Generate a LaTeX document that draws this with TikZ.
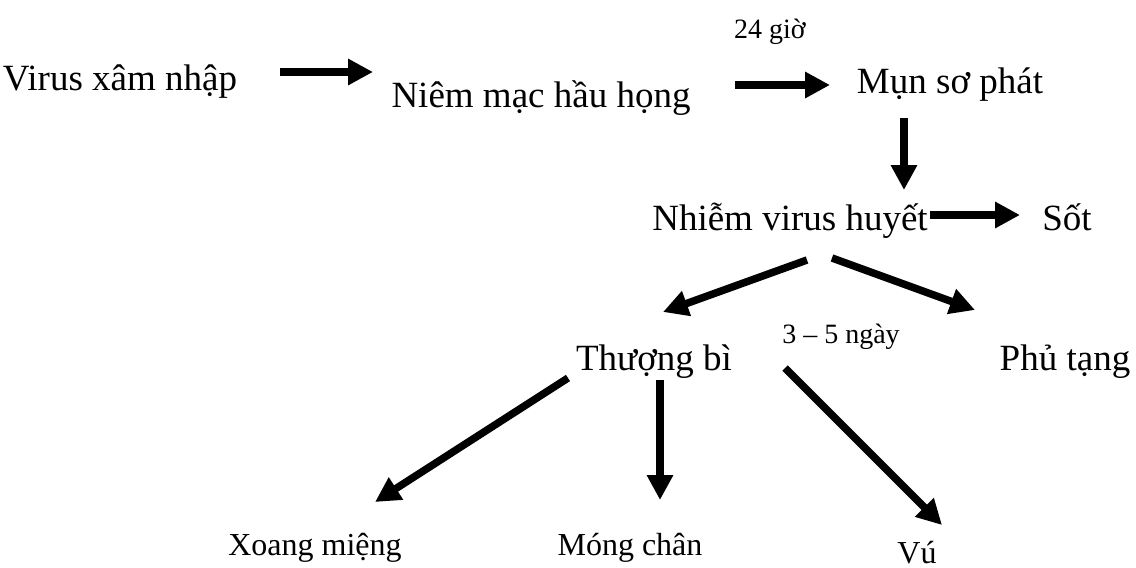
\documentclass[tikz,border=0pt]{standalone}
\usepackage{fontspec}
\setmainfont{Liberation Serif}
\usetikzlibrary{arrows.meta}

\begin{document}
\begin{tikzpicture}[
  x=1pt, y=-1pt,
  every node/.style={inner sep=0pt, anchor=base},
  lbl/.style={font=\fontsize{37}{41}\selectfont},
  lowlbl/.style={font=\fontsize{32}{36}\selectfont},
  note/.style={font=\fontsize{28}{32}\selectfont},
  arr/.style={-{Triangle[length=25pt, width=25pt]}, line width=7.5pt}
]
\useasboundingbox (0,0) rectangle (1136,568);

% stages
\node[lbl] (virus) at (120,90) {Virus xâm nhập};
\node[lbl] (niem) at (541,107) {Niêm mạc hầu họng};
\node[note] (gio) at (770,38) {24 giờ};
\node[lbl] (mun) at (950,93) {Mụn sơ phát};
\node[lbl] (nhiem) at (790,230) {Nhiễm virus huyết};
\node[lbl] (sot) at (1067,230) {Sốt};
\node[note] (ngay) at (841,343) {3 – 5 ngày};
\node[lbl] (thuong) at (654,370) {Thượng bì};
\node[lbl] (phu) at (1065,370) {Phủ tạng};
\node[lowlbl] (xoang) at (315,555) {Xoang miệng};
\node[lowlbl] (mong) at (630,555) {Móng chân};
\node[lowlbl] (vu) at (917,563) {Vú};

% arrows
\draw[arr] ([shift={(160,-18)}]virus.base) -- ([shift={(-168,-35)}]niem.base);
\draw[arr] ([shift={(194,-22)}]niem.base) -- ([shift={(-120,-8)}]mun.base);
\draw[arr] ([shift={(-46,25)}]mun.base) -- ([shift={(114,-40)}]nhiem.base);
\draw[arr] ([shift={(140,-15)}]nhiem.base) -- ([shift={(-47,-15)}]sot.base);
\draw[arr] ([shift={(17,30)}]nhiem.base) -- ([shift={(9,-58)}]thuong.base);
\draw[arr] ([shift={(42,28)}]nhiem.base) -- ([shift={(-90,-60)}]phu.base);
\draw[arr] ([shift={(-86,8)}]thuong.base) -- ([shift={(60,-53)}]xoang.base);
\draw[arr] ([shift={(6,10)}]thuong.base) -- ([shift={(30,-55)}]mong.base);
\draw[arr] ([shift={(131,-2)}]thuong.base) -- ([shift={(25,-38)}]vu.base);
\end{tikzpicture}
\end{document}
